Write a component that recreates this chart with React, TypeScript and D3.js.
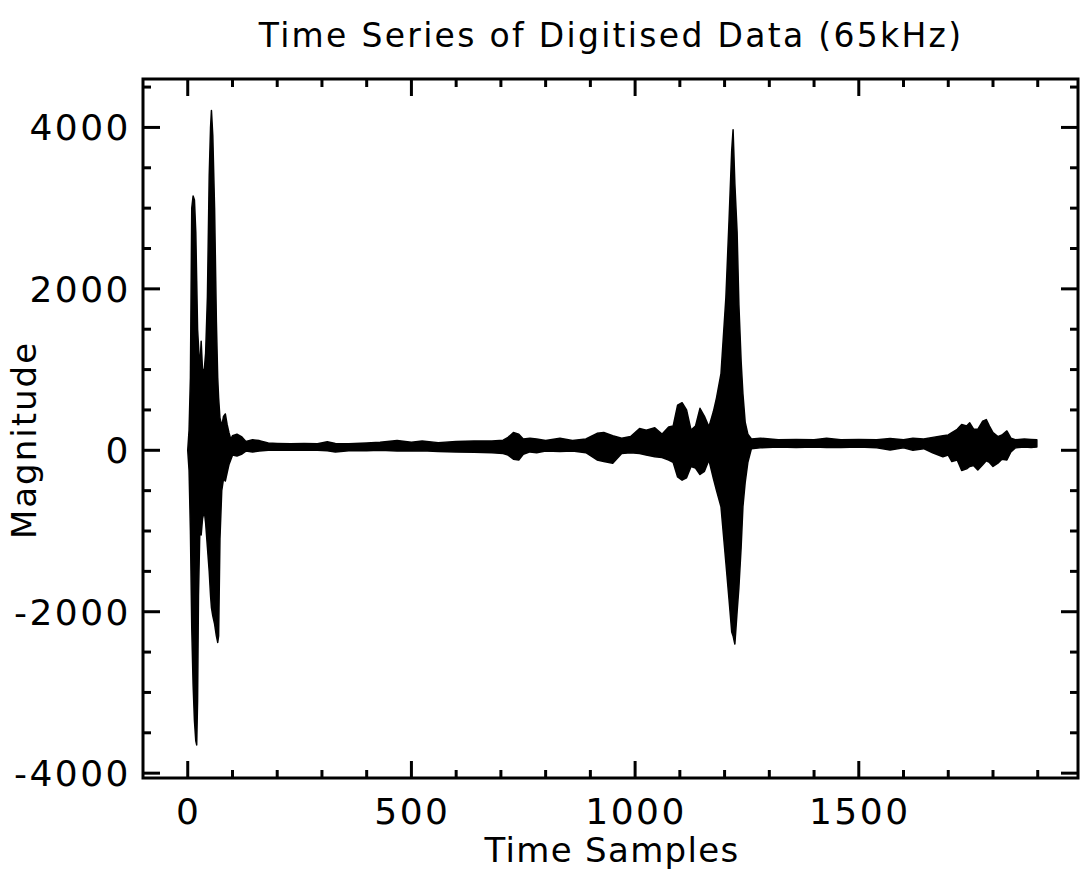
import React from "react";
import * as d3 from "d3";

// Envelope of the digitised signal (sample index, max and min over the oscillation)
const samples = [
  0, 3, 6, 9, 12, 15, 18, 20, 22, 24, 27, 30, 33, 37, 40, 44, 48, 51, 53, 56, 60, 64, 67, 69, 72, 76, 80, 84, 88, 92, 96,
  100, 110, 120, 130, 145, 160, 180, 200, 230, 260, 290, 312, 330, 360, 400, 430, 468, 500, 524, 560, 600, 640, 680, 705,
  716, 728, 740, 750, 765, 780, 800, 832, 860, 890, 915, 930, 950, 970, 990, 1010, 1025, 1044, 1060, 1075, 1085,
  1095, 1105, 1115, 1125, 1135, 1145, 1155, 1165, 1175, 1182, 1192, 1203, 1210, 1216, 1219, 1223, 1228, 1232, 1237,
  1241, 1246, 1252, 1260, 1280, 1320, 1360, 1400, 1428, 1460, 1500, 1540, 1570, 1600, 1621, 1645, 1665, 1688, 1700,
  1708, 1720, 1730, 1741, 1748, 1757, 1766, 1777, 1785, 1792, 1800, 1811, 1820, 1831, 1840, 1850, 1870, 1885, 1898,
];
const upper = [
  0, 250, 900, 3000, 3150, 3100, 2700, 2100, 1500, 1300, 1000, 1350, 1000, 1000, 1200, 1900, 3400, 4000, 4210, 3900, 3000, 1600, 900, 650, 400, 300, 420, 450, 320, 220, 140,
  180, 200, 170, 110, 130, 120, 90, 85, 80, 85, 80, 105, 85, 80, 90, 100, 120, 100, 115, 95, 110, 115, 115, 125,
  160, 220, 200, 140, 150, 140, 120, 150, 120, 140, 210, 220, 180, 150, 170, 270, 250, 280, 200, 290, 300,
  560, 590, 500, 250, 300, 520, 420, 290, 480, 650, 950, 1900, 2850, 3720, 3970, 3300, 2700, 1800, 1100,
  700, 350, 200, 140, 150, 130, 135, 130, 150, 130, 135, 130, 145, 130, 150, 140, 160, 180, 190,
  220, 260, 320, 300, 340, 260, 260, 360, 380, 300, 220, 170, 190, 240, 150, 130, 140, 135, 130,
];
const lower = [
  0, -250, -1000, -2200, -2900, -3350, -3600, -3650, -3100, -1800, -1000, -1050, -850, -750, -900, -1200, -1500, -1800, -1950, -2050, -2150, -2300, -2380, -2300, -1100, -500, -350, -380, -280, -180, -120,
  -60, -70, -50, -10, -20, -10, 0, 5, 0, 5, 0, -5, -20, -5, -5, 0, -10, -10, -5, -15, -20, -25, -30, -40,
  -60, -110, -120, -50, -20, -30, -10, -15, -10, -30, -120, -140, -160, -40, -30, -40, -60, -80, -90, -120, -150,
  -330, -370, -340, -200, -220, -300, -260, -120, -350, -500, -700, -1400, -1850, -2250, -2300, -2400, -2000, -1700, -1200,
  -700, -400, -150, 20, 30, 40, 35, 40, 35, 35, 40, 30, 5, 30, 0, 20, -30, -80, -60,
  -140, -120, -250, -230, -200, -190, -245, -180, -130, -150, -200, -160, -110, -120, -20, 30, 40, 35, 40,
];

const xMajorTicks = [0, 500, 1000, 1500];
const xMinorTicks = [100, 200, 300, 400, 600, 700, 800, 900, 1100, 1200, 1300, 1400, 1600, 1700, 1800, 1900];
const yMajorTicks = [-4000, -2000, 0, 2000, 4000];
const yMinorTicks = [-3500, -3000, -2500, -1500, -1000, -500, 500, 1000, 1500, 2500, 3000, 3500, 4500];

const title = "Time Series of Digitised Data (65kHz)";
const xTitle = "Time Samples";
const yTitle = "Magnitude";

export default function App() {
  const W = 1081;
  const H = 870;
  const left = 143;
  const right = 1078;
  const top = 79;
  const bottom = 778;

  const x = d3.scaleLinear().domain([-100, 1990]).range([left, right]);
  const y = d3.scaleLinear().domain([-4060, 4600]).range([bottom, top]);

  const pts = samples.map((s, i) => ({ s, hi: upper[i], lo: lower[i] }));
  const area = d3
    .area<{ s: number; hi: number; lo: number }>()
    .x((d) => x(d.s))
    .y0((d) => y(d.lo))
    .y1((d) => y(d.hi))
    .curve(d3.curveLinear);

  const font = "'DejaVu Sans', sans-serif";
  const major = 17;
  const minor = 8;
  const sw = 3;

  return (
    <svg
      width={W}
      height={H}
      style={{ position: "absolute", left: 0, top: 0, background: "#fff" }}
      fontFamily={font}
    >
      <rect x={0} y={0} width={W} height={H} fill="#fff" />
      <text x={611} y={47} textAnchor="middle" fontSize={33} letterSpacing={2.3} fill="#000">
        {title}
      </text>

      {/* signal */}
      <path d={area(pts) || ""} fill="#000" stroke="#000" strokeWidth={1.5} strokeLinejoin="round" />

      {/* frame */}
      <rect
        x={left}
        y={top}
        width={right - left}
        height={bottom - top}
        fill="none"
        stroke="#000"
        strokeWidth={sw}
      />

      {/* x ticks (bottom and top, inward) */}
      {xMajorTicks.map((t) => (
        <g key={"xM" + t} stroke="#000" strokeWidth={sw}>
          <line x1={x(t)} x2={x(t)} y1={bottom} y2={bottom - major} />
          <line x1={x(t)} x2={x(t)} y1={top} y2={top + major} />
        </g>
      ))}
      {xMinorTicks.map((t) => (
        <g key={"xm" + t} stroke="#000" strokeWidth={sw}>
          <line x1={x(t)} x2={x(t)} y1={bottom} y2={bottom - minor} />
          <line x1={x(t)} x2={x(t)} y1={top} y2={top + minor} />
        </g>
      ))}
      {/* y ticks (left and right, inward) */}
      {yMajorTicks.map((t) => (
        <g key={"yM" + t} stroke="#000" strokeWidth={sw}>
          <line x1={left} x2={left + major} y1={y(t)} y2={y(t)} />
          <line x1={right} x2={right - major} y1={y(t)} y2={y(t)} />
        </g>
      ))}
      {yMinorTicks.map((t) => (
        <g key={"ym" + t} stroke="#000" strokeWidth={sw}>
          <line x1={left} x2={left + minor} y1={y(t)} y2={y(t)} />
          <line x1={right} x2={right - minor} y1={y(t)} y2={y(t)} />
        </g>
      ))}

      {/* tick labels */}
      {xMajorTicks.map((t) => (
        <text
          key={"xl" + t}
          x={x(t) + 1}
          y={824}
          textAnchor="middle"
          fontSize={36}
          letterSpacing={2.5}
          fill="#000"
        >
          {String(t)}
        </text>
      ))}
      {yMajorTicks.map((t) => (
        <text
          key={"yl" + t}
          x={131}
          y={y(t) + 13}
          textAnchor="end"
          fontSize={36}
          letterSpacing={2.5}
          fill="#000"
        >
          {t < 0 ? "-" + String(-t) : String(t)}
        </text>
      ))}

      {/* axis titles */}
      <text x={612} y={862} textAnchor="middle" fontSize={34} letterSpacing={1.3} fill="#000">
        {xTitle}
      </text>
      <text
        transform={`translate(36,${440}) rotate(-90)`}
        textAnchor="middle"
        fontSize={34}
        letterSpacing={2}
        fill="#000"
      >
        {yTitle}
      </text>
    </svg>
  );
}
